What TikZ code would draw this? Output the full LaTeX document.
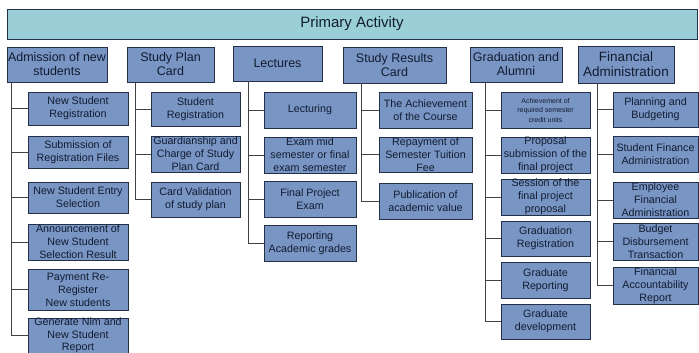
\documentclass[tikz,border=0pt]{standalone}
\usepackage{fontspec}
\setmainfont{Liberation Sans}
\usetikzlibrary{positioning}
\definecolor{barfill}{RGB}{154,207,216}
\definecolor{boxfill}{RGB}{120,149,196}
\definecolor{boxline}{RGB}{36,48,72}
\definecolor{txt}{RGB}{18,28,48}
\definecolor{linkc}{RGB}{65,65,65}
\tikzset{
  boxbase/.style={draw=boxline, fill=boxfill, line width=0.9pt, inner sep=0pt,
    align=center, text=txt},
  catbox/.style={boxbase, font=\fontsize{12.5}{14}\selectfont},
  leafbox/.style={boxbase, font=\fontsize{10.7}{13}\selectfont},
  tinybox/.style={boxbase, font=\fontsize{7}{9.5}\selectfont},
  link/.style={draw=linkc, line width=1pt}
}
% \boxat{name}{x1}{y1}{x2}{y2}{style}{text}
\newcommand\boxat[7]{%
  \node[#6, minimum width={#4pt-#2pt}, minimum height={#5pt-#3pt}]
    (#1) at ({(#2+#4)/2},{(#3+#5)/2}) {#7};}
\begin{document}
\begin{tikzpicture}[x=1pt, y=-1pt]
\useasboundingbox (0,0) rectangle (699,353);

% title bar
\boxat{top}{7}{9}{697}{39}{boxbase, fill=barfill, font=\fontsize{15}{17}\selectfont}{Primary Activity}

% category headers
\boxat{adm}{7}{47}{107}{82}{catbox}{Admission of new\\students}
\boxat{spc}{127}{47}{214}{82}{catbox}{Study Plan\\Card}
\boxat{lec}{233}{46}{322}{81}{catbox}{Lectures}
\boxat{src}{343}{47}{446}{83}{catbox}{Study Results\\Card}
\boxat{gra}{470}{47}{562}{82}{catbox}{Graduation and\\Alumni}
\boxat{fin}{578}{46}{674}{83}{catbox, font=\fontsize{13.5}{15}\selectfont}{Financial\\Administration}

% admission of new students
\boxat{a1}{28}{92}{128}{125}{leafbox}{New Student\\Registration}
\boxat{a2}{28}{136}{128}{168}{leafbox}{Submission of\\Registration Files}
\boxat{a3}{28}{182}{128}{213}{leafbox}{New Student Entry\\Selection}
\boxat{a4}{28}{224}{128}{260}{leafbox}{Announcement of\\New Student\\Selection Result}
\boxat{a5}{28}{269}{128}{310}{leafbox}{Payment Re-\\Register\\New students}
\boxat{a6}{28}{318}{128}{353}{leafbox, font=\fontsize{10.7}{12.5}\selectfont}{Generate Nim and\\New Student\\Report}

% study plan card
\boxat{s1}{151}{92}{240}{126}{leafbox}{Student\\Registration}
\boxat{s2}{151}{136}{240}{172}{leafbox}{Guardianship and\\Charge of Study\\Plan Card}
\boxat{s3}{151}{182}{240}{217}{leafbox}{Card Validation\\of study plan}

% lectures
\boxat{l1}{264}{92}{356}{128}{leafbox}{Lecturing}
\boxat{l2}{264}{137}{356}{173}{leafbox}{Exam mid\\semester or final\\exam semester}
\boxat{l3}{264}{181}{356}{217}{leafbox}{Final Project\\Exam}
\boxat{l4}{264}{225}{356}{261}{leafbox}{Reporting\\Academic grades}

% study results card
\boxat{r1}{379}{92}{472}{128}{leafbox}{The Achievement\\of the Course}
\boxat{r2}{379}{137}{472}{172}{leafbox}{Repayment of\\Semester Tuition\\Fee}
\boxat{r3}{379}{183}{472}{219}{leafbox}{Publication of\\academic value}

% graduation and alumni
\boxat{g1}{501}{92}{590}{128}{tinybox}{Achievement of\\required semester\\credit units}
\boxat{g2}{501}{137}{590}{173}{leafbox}{Proposal\\submission of the\\final project}
\boxat{g3}{501}{179}{590}{215}{leafbox}{Session of the\\final project\\proposal}
\boxat{g4}{501}{221}{590}{256}{leafbox}{Graduation\\Registration}
\boxat{g5}{501}{262}{590}{298}{leafbox}{Graduate\\Reporting}
\boxat{g6}{501}{304}{590}{339}{leafbox}{Graduate\\development}

% financial administration
\boxat{f1}{613}{92}{698}{127}{leafbox}{Planning and\\Budgeting}
\boxat{f2}{613}{136}{698}{172}{leafbox}{Student Finance\\Administration}
\boxat{f3}{613}{182}{698}{218}{leafbox}{Employee\\Financial\\Administration}
\boxat{f4}{613}{223}{698}{260}{leafbox}{Budget\\Disbursement\\Transaction}
\boxat{f5}{613}{267}{698}{304}{leafbox}{Financial\\Accountability\\Report}

% tree connectors
\foreach \c in {a1,a2,a3,a4,a5,a6}
  \draw[link] ([xshift=5pt]adm.south west) |- (\c.west);
\foreach \c in {s1,s2,s3}
  \draw[link] ([xshift=9pt]spc.south west) |- (\c.west);
\foreach \c in {l1,l2,l3,l4}
  \draw[link] ([xshift=16pt]lec.south west) |- (\c.west);
\foreach \c in {r1,r2,r3}
  \draw[link] ([xshift=19pt]src.south west) |- (\c.west);
\foreach \c in {g1,g2,g3,g4,g5,g6}
  \draw[link] ([xshift=16pt]gra.south west) |- (\c.west);
\foreach \c in {f1,f2,f3,f4,f5}
  \draw[link] ([xshift=20pt]fin.south west) |- (\c.west);
\end{tikzpicture}
\end{document}
